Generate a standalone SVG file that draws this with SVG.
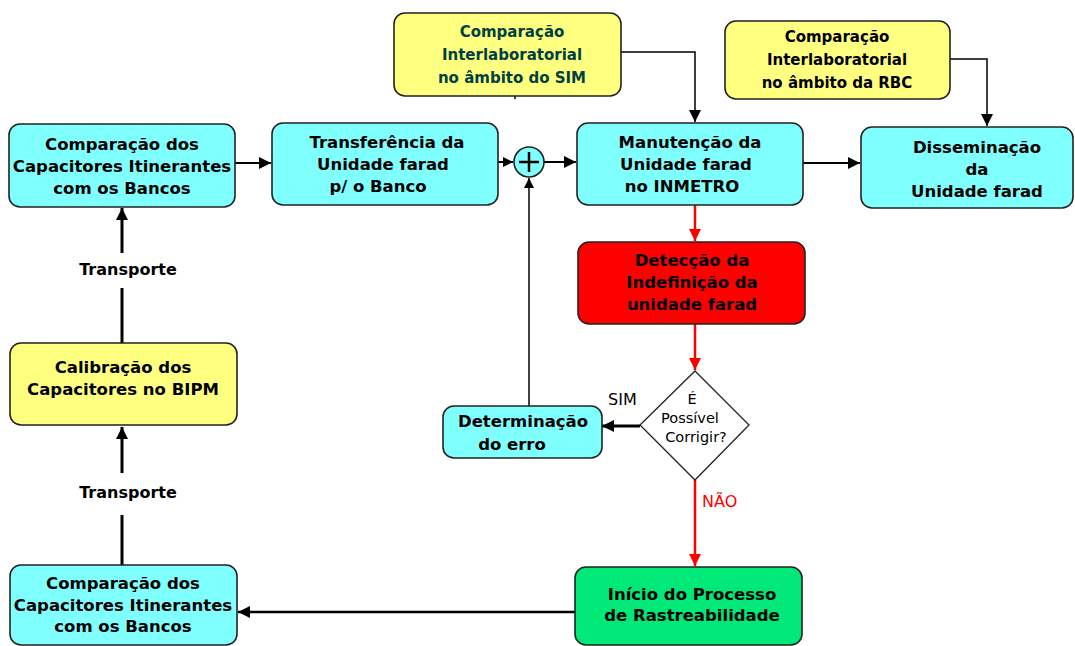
<svg xmlns="http://www.w3.org/2000/svg" width="1075" height="646" viewBox="0 0 1075 646">
  <style>
    .box { stroke: #222; stroke-width: 1.6; }
    .cyan { fill: #80ffff; }
    .yellow { fill: #ffff80; }
    .red { fill: #ff0000; }
    .green { fill: #00e878; }
    .t { font-family: "DejaVu Sans", "Liberation Sans", sans-serif; font-weight: bold; font-size: 16.5px; fill: #000; text-anchor: middle; }
    .ts { font-family: "DejaVu Sans", "Liberation Sans", sans-serif; font-weight: bold; font-size: 15px; text-anchor: middle; }
    .lbl { font-family: "DejaVu Sans", "Liberation Sans", sans-serif; font-size: 16px; fill: #000; }
    .q { font-family: "DejaVu Sans", "Liberation Sans", sans-serif; font-size: 14.5px; fill: #000; text-anchor: middle; }
    .c { fill: none; stroke: #000; }
    .r { fill: none; stroke: #ff0000; stroke-width: 2.5; }
  </style>
  <defs>
    <marker id="ah" viewBox="0 0 10 10" refX="10" refY="5" markerWidth="10" markerHeight="10" markerUnits="userSpaceOnUse" orient="auto">
      <path d="M0,0 L10,5 L0,10 z" fill="#000"/>
    </marker>
    <marker id="ahL" viewBox="0 0 10 10" refX="10" refY="5" markerWidth="13" markerHeight="12" markerUnits="userSpaceOnUse" orient="auto">
      <path d="M0,0 L10,5 L0,10 z" fill="#000"/>
    </marker>
    <marker id="ahR" viewBox="0 0 10 10" refX="10" refY="5" markerWidth="12" markerHeight="12" markerUnits="userSpaceOnUse" orient="auto">
      <path d="M0,0 L10,5 L0,10 z" fill="#ff0000"/>
    </marker>
  </defs>
  <rect width="1075" height="646" fill="#fff"/>

  <g id="connectors">
    <!-- top row flow -->
    <line class="c" stroke-width="2" x1="235" y1="163" x2="271" y2="163" marker-end="url(#ahL)"/>
    <line class="c" stroke-width="2" x1="498" y1="162" x2="513" y2="162" marker-end="url(#ah)"/>
    <line class="c" stroke-width="2" x1="544" y1="162" x2="576" y2="162" marker-end="url(#ahL)"/>
    <line class="c" stroke-width="2" x1="803" y1="163" x2="860" y2="163" marker-end="url(#ahL)"/>
    <!-- interlaboratory feeds -->
    <polyline class="c" stroke-width="1.5" points="621,52 695,52 695,122" marker-end="url(#ahL)"/>
    <line class="c" stroke-width="1.5" x1="515" y1="96" x2="515" y2="99"/>
    <polyline class="c" stroke-width="1.5" points="950,59 987,59 987,126" marker-end="url(#ahL)"/>
    <!-- correction feedback -->
    <line class="c" stroke-width="1.5" x1="529" y1="406" x2="529" y2="178" marker-end="url(#ah)"/>
    <!-- red path -->
    <line class="r" x1="695" y1="205" x2="695" y2="241" marker-end="url(#ahR)"/>
    <line class="r" x1="695" y1="324" x2="695" y2="370" marker-end="url(#ahR)"/>
    <line class="r" x1="695" y1="480" x2="695" y2="566" marker-end="url(#ahR)"/>
    <!-- SIM branch -->
    <line class="c" stroke-width="3" x1="640" y1="426" x2="602" y2="426" marker-end="url(#ahL)"/>
    <!-- traceability restart -->
    <line class="c" stroke-width="2.5" x1="575" y1="612" x2="238" y2="612" marker-end="url(#ahL)"/>
    <!-- transport legs -->
    <line class="c" stroke-width="3" x1="122" y1="565" x2="122" y2="515"/>
    <line class="c" stroke-width="3" x1="122" y1="473" x2="122" y2="427" marker-end="url(#ahL)"/>
    <line class="c" stroke-width="3" x1="122" y1="343" x2="122" y2="288"/>
    <line class="c" stroke-width="3" x1="122" y1="253" x2="122" y2="208" marker-end="url(#ahL)"/>
    <text class="t" x="128" y="498" style="font-size:16px">Transporte</text>
    <text class="t" x="128" y="275" style="font-size:16px">Transporte</text>
    <text class="lbl" x="608" y="405">SIM</text>
    <text class="lbl" x="702" y="507" style="fill:#ff0000">NÃO</text>
  </g>

  <g id="comp-top">
    <rect class="box cyan" x="9" y="124" width="226" height="83" rx="11"/>
    <text class="t" x="122" y="150">Comparação dos</text>
    <text class="t" x="122" y="172">Capacitores Itinerantes</text>
    <text class="t" x="122" y="194">com os Bancos</text>
  </g>

  <g id="transferencia">
    <rect class="box cyan" x="272" y="123" width="226" height="82" rx="11"/>
    <text class="t" x="387" y="148">Transferência da</text>
    <text class="t" x="383" y="170">Unidade farad</text>
    <text class="t" x="378" y="192">p/ o Banco</text>
  </g>

  <g id="somador">
    <circle cx="529" cy="162" r="15" fill="#80ffff" stroke="#222" stroke-width="1.6"/>
    <path d="M519,162 H539 M529,152 V172" stroke="#000" stroke-width="2.5"/>
  </g>

  <g id="sim">
    <rect class="box yellow" x="394" y="13" width="227" height="83" rx="11"/>
    <text class="ts" x="512" y="37" fill="#004040">Comparação</text>
    <text class="ts" x="512" y="60" fill="#004040">Interlaboratorial</text>
    <text class="ts" x="512" y="83" fill="#004040">no âmbito do SIM</text>
  </g>

  <g id="manutencao">
    <rect class="box cyan" x="577" y="123" width="226" height="82" rx="11"/>
    <text class="t" x="690" y="148">Manutenção da</text>
    <text class="t" x="686" y="170">Unidade farad</text>
    <text class="t" x="682" y="192">no INMETRO</text>
  </g>

  <g id="rbc">
    <rect class="box yellow" x="725" y="21" width="225" height="78" rx="11"/>
    <text class="ts" x="837" y="42">Comparação</text>
    <text class="ts" x="837" y="65">Interlaboratorial</text>
    <text class="ts" x="837" y="88">no âmbito da RBC</text>
  </g>

  <g id="disseminacao">
    <rect class="box cyan" x="861" y="127" width="212" height="81" rx="11"/>
    <text class="t" x="977" y="153">Disseminação</text>
    <text class="t" x="977" y="175">da</text>
    <text class="t" x="977" y="197">Unidade farad</text>
  </g>

  <g id="deteccao">
    <rect class="box red" x="578" y="242" width="227" height="82" rx="11"/>
    <text class="t" x="692" y="266">Detecção  da</text>
    <text class="t" x="692" y="288">Indefinição da</text>
    <text class="t" x="692" y="310">unidade farad</text>
  </g>

  <g id="decisao">
    <polygon points="695,371 749,425 695,480 640,425" fill="#fff" stroke="#222" stroke-width="1.3"/>
    <text class="q" x="692" y="404">É</text>
    <text class="q" x="690" y="423">Possível</text>
    <text class="q" x="696" y="442">Corrigir?</text>
  </g>

  <g id="determinacao">
    <rect class="box cyan" x="443" y="406" width="159" height="52" rx="11"/>
    <text class="t" x="523" y="427">Determinação</text>
    <text class="t" x="512" y="450">do  erro</text>
  </g>

  <g id="calibracao">
    <rect class="box yellow" x="10" y="343" width="227" height="82" rx="11"/>
    <text class="t" x="123" y="373">Calibração dos</text>
    <text class="t" x="123" y="395">Capacitores no BIPM</text>
  </g>

  <g id="comp-bottom">
    <rect class="box cyan" x="10" y="565" width="227" height="80" rx="11"/>
    <text class="t" x="123" y="589">Comparação dos</text>
    <text class="t" x="123" y="611">Capacitores Itinerantes</text>
    <text class="t" x="123" y="632">com os Bancos</text>
  </g>

  <g id="rastreabilidade">
    <rect class="box green" x="575" y="567" width="227" height="78" rx="11"/>
    <text class="t" x="692" y="600">Início do Processo</text>
    <text class="t" x="692" y="621">de Rastreabilidade</text>
  </g>
</svg>
